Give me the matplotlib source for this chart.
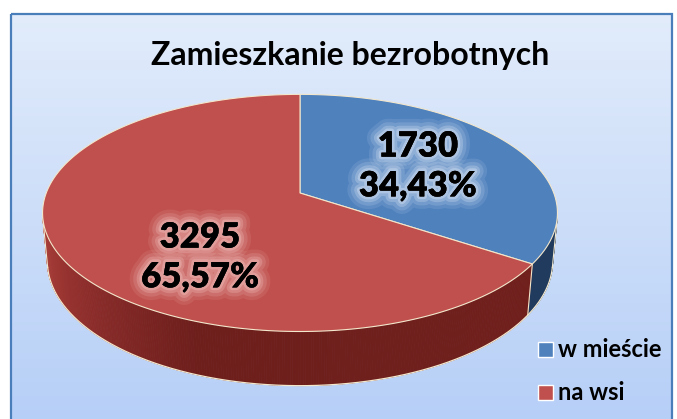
import numpy as np
import matplotlib
matplotlib.use("Agg")
import matplotlib.pyplot as plt
from matplotlib.patches import Polygon, Rectangle
import matplotlib.patheffects as pe

# ---- data ----
categories = ["w mieście", "na wsi"]
counts = [1730, 3295]
title = "Zamieszkanie bezrobotnych"
top_colors = ["#4f81bd", "#c0504d"]

plt.rcParams['font.family'] = ['Lato', 'DejaVu Sans']

W, H = 677, 419
fig = plt.figure(figsize=(W / 100, H / 100), dpi=100)
ax = fig.add_axes([0, 0, 1, 1])
ax.set_xlim(0, W)
ax.set_ylim(H, 0)
ax.axis('off')
fig.patch.set_facecolor('white')

# ---- background gradient with border ----
bx0, by0, bx1, by1 = 11, 14, 672, 425
top = np.array([226, 236, 251]) / 255
bot = np.array([182, 207, 247]) / 255
g = np.linspace(0, 1, 256)[:, None]
grad = (top[None, :] * (1 - g) + bot[None, :] * g)[:, None, :]
grad = np.repeat(grad, 2, axis=1)
ax.imshow(grad, extent=[bx0, bx1, by1, by0], aspect='auto', zorder=0, interpolation='bilinear')
ax.add_patch(Rectangle((bx0, by0), bx1 - bx0, by1 - by0, fill=False,
                       edgecolor='#4a7ebb', linewidth=1.6, zorder=1))

# ---- perspective pie ----
cx, cy = 300, 193
e = np.radians(27)
D = 5.3
f = 1345.0
h = 0.215


def proj(theta_deg, y):
    t = np.radians(theta_deg)
    x = np.sin(t)
    z = np.cos(t)
    depth = D + z * np.cos(e) - y * np.sin(e)
    X = cx + f * x / depth
    Y = cy - f * (z * np.sin(e) + y * np.cos(e)) / depth
    return X, Y


total = sum(counts)
fracs = [c / total for c in counts]
bounds = np.concatenate([[0], np.cumsum(fracs) * 360])

# visible side range (silhouette)
cmin = -1.0 / (D * np.cos(e))
vis0 = np.degrees(np.arccos(cmin))
vis1 = 360 - vis0

edge_col = '#f3e7cc'


def side_color(i, th):
    if i == 0:
        return (0.13, 0.23, 0.37)
    pts = [(124, (0.44, 0.12, 0.11)), (200, (0.43, 0.12, 0.11)),
           (230, (0.56, 0.18, 0.17)), (260, (0.68, 0.26, 0.24))]
    xs = [p[0] for p in pts]
    cols = np.array([p[1] for p in pts])
    return tuple(np.interp(th, xs, cols[:, k]) for k in range(3))


# sides
for i in range(len(counts)):
    a0 = max(bounds[i], vis0)
    a1 = min(bounds[i + 1], vis1)
    if a1 <= a0:
        continue
    ths = np.linspace(a0, a1, int((a1 - a0) * 2) + 2)
    for t0, t1 in zip(ths[:-1], ths[1:]):
        x0, y0 = proj(t0, 0)
        x1, y1 = proj(t1, 0)
        x2, y2 = proj(t1, -h)
        x3, y3 = proj(t0, -h)
        c = side_color(i, 0.5 * (t0 + t1))
        ax.add_patch(Polygon([(x0, y0), (x1, y1), (x2, y2), (x3, y3)],
                             closed=True, facecolor=c, edgecolor=c,
                             linewidth=0.6, zorder=2))

# bottom outline and vertical edges
ths = np.linspace(vis0, vis1, 400)
bx, byy = proj(ths, -h)
ax.plot(bx, byy, color=edge_col, lw=0.9, zorder=3)
for th in [vis0, vis1] + [b for b in bounds[1:-1] if vis0 < b < vis1]:
    xa, ya = proj(th, 0)
    xb, yb = proj(th, -h)
    ax.plot([xa, xb], [ya, yb], color=edge_col, lw=0.8, zorder=3)

# top faces
for i in range(len(counts)):
    ths = np.linspace(bounds[i], bounds[i + 1], 300)
    X, Y = proj(ths, 0)
    verts = [(cx, cy)] + list(zip(X, Y))
    ax.add_patch(Polygon(verts, closed=True, facecolor=top_colors[i],
                         edgecolor=edge_col, linewidth=0.8, zorder=4))

# ---- labels ----
label_pos = [(418, 166), (200, 257)]
glows = ['#d3e0f2', '#eebcb9']
for i in range(len(counts)):
    pct = f"{fracs[i] * 100:.2f}".replace('.', ',') + '%'
    txt = f"{counts[i]}\n{pct}"
    effects = [pe.withStroke(linewidth=18, foreground=glows[i], alpha=0.12),
               pe.withStroke(linewidth=13, foreground=glows[i], alpha=0.18),
               pe.withStroke(linewidth=8, foreground=glows[i], alpha=0.3),
               pe.withStroke(linewidth=4, foreground=glows[i], alpha=0.45),
               pe.Normal()]
    ax.text(label_pos[i][0], label_pos[i][1], txt, ha='center', va='center',
            fontsize=25, fontweight='heavy', color='black', linespacing=1.25,
            path_effects=effects, zorder=6)

# ---- title ----
ax.text(350, 56, title, ha='center', va='center', fontsize=23,
        fontweight='bold', color='black', zorder=6)

# ---- legend ----
leg_y = [349.5, 392.5]
for i in range(len(counts)):
    ax.add_patch(Rectangle((538, leg_y[i] - 7.5), 15, 15, facecolor=top_colors[i],
                           edgecolor='white', linewidth=1.0, zorder=6))
    ax.text(558, leg_y[i], categories[i], ha='left', va='center', fontsize=17,
            fontweight='bold', color='black', zorder=6)

fig.savefig('out.png', dpi=100)
